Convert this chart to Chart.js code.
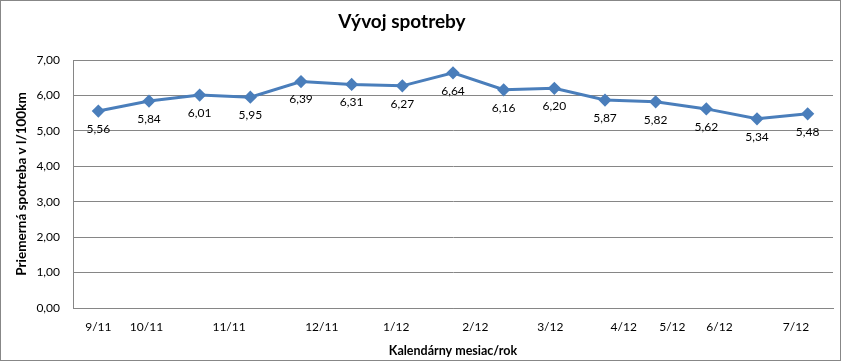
<!DOCTYPE html>
<html>
<head>
<meta charset="utf-8">
<script src="https://cdn.jsdelivr.net/npm/chart.js@4/dist/chart.umd.min.js"></script>
<style>
  html, body { margin: 0; padding: 0; background: #fff; }
  #wrap { width: 841px; height: 361px; }
</style>
</head>
<body>
<div id="wrap"><canvas id="c" width="841" height="361"></canvas></div>
<script>
// ---- data ----
const titleText = 'Vývoj spotreby';
const yTitle = 'Priemerná spotreba v l/100km';
const xTitle = 'Kalendárny mesiac/rok';
const values = [5.56, 5.84, 6.01, 5.95, 6.39, 6.31, 6.27, 6.64, 6.16, 6.20, 5.87, 5.82, 5.62, 5.34, 5.48];
const monthLabels = ['9/11', '10/11', '11/11', '12/11', '1/12', '2/12', '3/12', '4/12', '5/12', '6/12', '7/12'];
const monthPos = [0, 0.95, 2.58, 4.41, 5.88, 7.44, 8.92, 10.37, 11.33, 12.26, 13.77];

const fmt = v => v.toFixed(2).replace('.', ',');
const FONT = 'Lato, "Open Sans", sans-serif';

const extras = {
  id: 'extras',
  afterDatasetsDraw(chart) {
    const ctx = chart.ctx;
    const meta = chart.getDatasetMeta(0);
    ctx.save();
    ctx.font = '12px ' + FONT;
    ctx.fillStyle = '#000';
    ctx.textAlign = 'center';
    ctx.textBaseline = 'middle';
    meta.data.forEach((pt, i) => {
      ctx.fillText(fmt(values[i]), pt.x, pt.y + 18);
    });
    ctx.restore();
  },
  afterDraw(chart) {
    const ctx = chart.ctx;
    ctx.save();
    ctx.font = 'bold 19px ' + FONT;
    ctx.fillStyle = '#000';
    ctx.textAlign = 'center';
    ctx.textBaseline = 'middle';
    ctx.fillText(titleText, 402, 22);
    ctx.strokeStyle = '#878787';
    ctx.lineWidth = 1;
    ctx.strokeRect(0.5, 0.5, 840, 360);
    ctx.restore();
  }
};

new Chart(document.getElementById('c'), {
  type: 'line',
  data: {
    datasets: [{
      data: values.map((v, i) => ({ x: i, y: v })),
      borderColor: '#4A7EBB',
      backgroundColor: '#4A7EBB',
      borderWidth: 3,
      pointStyle: 'rectRot',
      pointRadius: 4.5,
      pointHoverRadius: 4.5,
      tension: 0,
      fill: false
    }]
  },
  options: {
    responsive: false,
    animation: false,
    events: [],
    layout: { padding: { top: 60, right: 8, bottom: 0, left: 0 } },
    plugins: {
      legend: { display: false },
      title: { display: false },
      tooltip: { enabled: false }
    },
    scales: {
      x: {
        type: 'linear',
        min: -0.5,
        max: 14.5,
        grid: { display: false, drawTicks: false },
        border: { display: true, color: '#868686', width: 1 },
        afterBuildTicks(scale) {
          scale.ticks = monthPos.map(v => ({ value: v }));
        },
        afterFit(scale) { scale.height = 53; },
        ticks: {
          autoSkip: false,
          maxRotation: 0,
          minRotation: 0,
          padding: 12,
          color: '#000',
          font: { family: FONT, size: 12 },
          callback: (v, i) => monthLabels[i]
        },
        title: {
          display: true,
          text: xTitle,
          color: '#000',
          font: { family: FONT, size: 12.5, weight: 'bold' },
          padding: { top: 0, bottom: 2.5 }
        }
      },
      y: {
        min: 0,
        max: 7,
        grid: { color: '#868686', lineWidth: 1, drawTicks: false },
        border: { display: true, color: '#868686', width: 1 },
        afterFit(scale) { scale.width = 73; },
        ticks: {
          stepSize: 1,
          padding: 13,
          color: '#000',
          font: { family: FONT, size: 12 },
          callback: v => fmt(v)
        },
        title: {
          display: true,
          text: yTitle,
          color: '#000',
          font: { family: FONT, size: 13.5, weight: 'bold' },
          padding: { top: 14, bottom: 0 }
        }
      }
    }
  },
  plugins: [extras]
});
</script>
</body>
</html>
